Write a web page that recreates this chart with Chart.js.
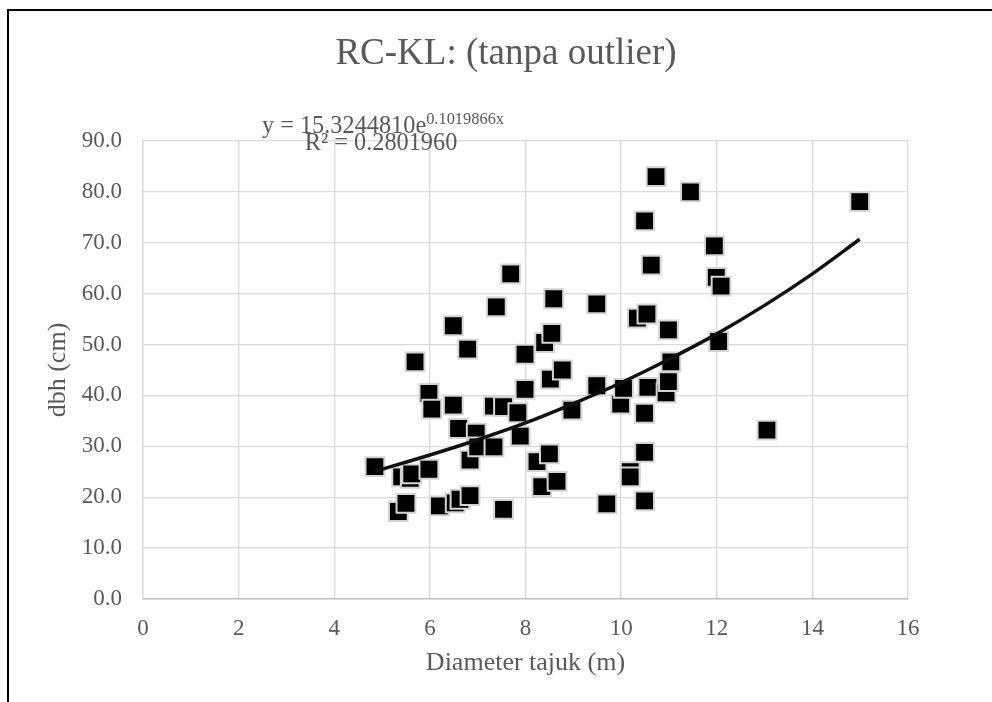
<!DOCTYPE html>
<html>
<head>
<meta charset="utf-8">
<script src="https://cdn.jsdelivr.net/npm/chart.js@4.4.1/dist/chart.umd.min.js"></script>
<style>
  html, body { margin: 0; padding: 0; background: #ffffff; }
  #wrap { position: relative; width: 992px; height: 702px; overflow: hidden; }
</style>
</head>
<body>
<div id="wrap"><canvas id="c" width="992" height="702"></canvas></div>
<script>
// ---- data ----
const chartTitle = "RC-KL: (tanpa outlier)";
const xAxisTitle = "Diameter tajuk (m)";
const yAxisTitle = "dbh (cm)";
const equationMain = "y = 15.3244810e";
const equationExp = "0.1019866x";
const rSquaredText = "R² = 0.2801960";

const xDiameter = [4.85, 5.34, 5.41, 5.50, 5.59, 5.62, 5.69, 5.98, 5.98, 6.04, 6.20, 6.49, 6.49, 6.53, 6.60, 6.63, 6.79, 6.84, 6.84, 6.97, 7.00, 7.33, 7.34, 7.39, 7.54, 7.54, 7.69, 7.84, 7.89, 7.99, 7.99, 8.24, 8.34, 8.40, 8.50, 8.52, 8.55, 8.59, 8.66, 8.77, 8.97, 9.49, 9.49, 9.70, 9.99, 10.05, 10.19, 10.19, 10.34, 10.49, 10.49, 10.49, 10.49, 10.54, 10.56, 10.63, 10.73, 10.94, 10.99, 10.99, 11.04, 11.45, 11.95, 11.99, 12.04, 12.09, 13.05, 14.99];
const yDbh = [26.0, 17.2, 24.0, 18.8, 23.7, 24.6, 46.6, 40.4, 25.5, 37.3, 18.3, 53.7, 38.1, 18.9, 33.5, 19.6, 49.1, 27.3, 20.3, 32.6, 29.9, 37.9, 29.9, 57.4, 37.8, 17.6, 63.9, 36.6, 32.0, 48.1, 41.2, 27.0, 22.1, 50.4, 28.5, 43.2, 52.2, 59.0, 23.1, 45.0, 37.1, 58.0, 41.9, 18.7, 38.3, 41.4, 25.0, 24.0, 55.2, 74.3, 36.5, 28.8, 19.3, 56.0, 41.6, 65.6, 83.0, 40.5, 52.9, 42.7, 46.6, 80.0, 69.4, 63.2, 50.6, 61.5, 33.2, 78.1];

const trendX = [4.85, 6, 7, 8, 9, 10, 11, 12, 13, 14, 14.99];
const trendY = [25.1, 28.3, 31.3, 34.6, 38.4, 42.5, 47.1, 52.1, 57.7, 63.9, 70.7];

const xTicks = [0, 2, 4, 6, 8, 10, 12, 14, 16];
const yTicks = [0, 10, 20, 30, 40, 50, 60, 70, 80, 90];

// ---- build chart ----
const FONT = "'Liberation Serif', 'Times New Roman', serif";
const TEXT = '#595959';

const scatterPoints = xDiameter.map((x, i) => ({ x: x, y: yDbh[i] }));
const trendPoints = trendX.map((x, i) => ({ x: x, y: trendY[i] }));

const decorPlugin = {
  id: 'decor',
  beforeDraw(chart) {
    const ctx = chart.ctx;
    ctx.save();
    ctx.fillStyle = '#ffffff';
    ctx.fillRect(0, 0, chart.width, chart.height);
    ctx.strokeStyle = '#000000';
    ctx.lineWidth = 2;
    ctx.beginPath();
    ctx.moveTo(8, chart.height);
    ctx.lineTo(8, 10);
    ctx.lineTo(chart.width, 10);
    ctx.stroke();
    ctx.restore();
  },
  afterDraw(chart) {
    const ctx = chart.ctx;
    ctx.save();
    ctx.fillStyle = TEXT;
    ctx.textBaseline = 'alphabetic';
    // chart title
    ctx.font = '37px ' + FONT;
    ctx.textAlign = 'center';
    ctx.fillText(chartTitle, 506, 64);
    // trendline equation
    const mainSize = 24.3, expSize = 16.4;
    ctx.font = mainSize + 'px ' + FONT;
    const wMain = ctx.measureText(equationMain).width;
    ctx.font = expSize + 'px ' + FONT;
    const wExp = ctx.measureText(equationExp).width;
    const cx = 383;
    const startX = cx - (wMain + wExp) / 2;
    ctx.textAlign = 'left';
    ctx.font = mainSize + 'px ' + FONT;
    ctx.fillText(equationMain, startX, 133);
    ctx.font = expSize + 'px ' + FONT;
    ctx.fillText(equationExp, startX + wMain, 124);
    ctx.font = mainSize + 'px ' + FONT;
    ctx.textAlign = 'center';
    ctx.fillText(rSquaredText, 381, 150);
    ctx.restore();
  }
};

new Chart(document.getElementById('c'), {
  type: 'scatter',
  data: {
    datasets: [
      {
        label: 'Trend',
        data: trendPoints,
        showLine: true,
        borderColor: '#111111',
        borderWidth: 3.5,
        pointRadius: 0,
        pointHoverRadius: 0,
        cubicInterpolationMode: 'monotone',
        fill: false,
        order: 0
      },
      {
        label: 'dbh',
        data: scatterPoints,
        pointStyle: 'rect',
        pointRadius: 13.3,
        pointHoverRadius: 13.3,
        backgroundColor: '#000000',
        borderColor: '#d4d4d4',
        borderWidth: 2,
        order: 1
      }
    ]
  },
  options: {
    responsive: false,
    animation: false,
    events: [],
    layout: { padding: { top: 141, right: 84, left: 0, bottom: 0 } },
    plugins: {
      legend: { display: false },
      tooltip: { enabled: false },
      title: { display: false }
    },
    scales: {
      x: {
        type: 'linear',
        min: 0,
        max: 16,
        afterBuildTicks(scale) { scale.ticks = xTicks.map(v => ({ value: v })); },
        afterFit(scale) { scale.height = 103; },
        grid: { color: '#d9d9d9', lineWidth: 1.3, drawTicks: false },
        border: { color: '#bfbfbf', width: 1.5 },
        ticks: {
          color: TEXT,
          font: { family: FONT, size: 23 },
          padding: 16,
          maxRotation: 0,
          callback: v => String(v)
        },
        title: {
          display: true,
          text: xAxisTitle,
          color: TEXT,
          font: { family: FONT, size: 26 },
          padding: { top: 0, bottom: 23.4 }
        }
      },
      y: {
        type: 'linear',
        min: 0,
        max: 90,
        afterBuildTicks(scale) { scale.ticks = yTicks.map(v => ({ value: v })); },
        afterFit(scale) { scale.width = 143; },
        grid: { color: '#d9d9d9', lineWidth: 1.3, drawTicks: false },
        border: { color: '#d9d9d9', width: 1.3 },
        ticks: {
          color: TEXT,
          font: { family: FONT, size: 23 },
          padding: 21,
          callback: v => Number(v).toFixed(1)
        },
        title: {
          display: true,
          text: yAxisTitle,
          color: TEXT,
          font: { family: FONT, size: 26 },
          padding: { top: 42.4, bottom: 0 }
        }
      }
    }
  },
  plugins: [decorPlugin]
});
</script>
</body>
</html>
